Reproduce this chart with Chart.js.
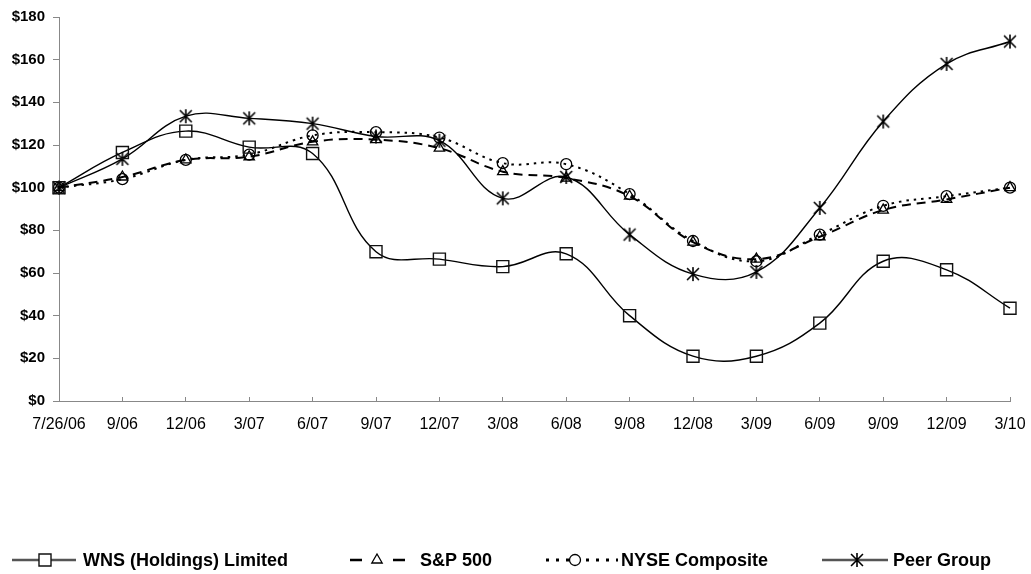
<!DOCTYPE html>
<html>
<head>
<meta charset="utf-8">
<script src="https://cdn.jsdelivr.net/npm/chart.js@4/dist/chart.umd.min.js"></script>
<style>
  html, body { margin: 0; padding: 0; background: #fff; }
  #wrap { width: 1031px; height: 574px; }
</style>
</head>
<body>
<div id="wrap"><canvas id="c" width="1031" height="574"></canvas></div>
<script>
// ---- data ----
const categories = ['7/26/06','9/06','12/06','3/07','6/07','9/07','12/07','3/08','6/08','9/08','12/08','3/09','6/09','9/09','12/09','3/10'];
const wnsValues  = [100,116.5,126.5,119,116,70,66.5,63,69,40,21,21,36.5,65.5,61.5,43.5];
const spValues   = [100,105,113,114.5,121.5,122.5,118.5,107.5,104.5,96,74.5,66.5,77,89.5,94.5,100];
const nyseValues = [100,104,113,115.5,124.5,126,123.5,111.5,111,97,75,65.5,78,91.5,96,100];
const peerValues = [100,113.5,133.5,132.5,130,124,122,95,105,78,59.5,60.5,90.5,131,158,168.5];
const seriesNames = ['WNS (Holdings) Limited','S&P 500','NYSE Composite','Peer Group'];
const yTicks = [0,20,40,60,80,100,120,140,160,180];

// ---- styles ----
const FONT = "'Liberation Sans', Arial, sans-serif";

function makeStar(size) {
  const cv = document.createElement('canvas');
  cv.width = size; cv.height = size;
  const g = cv.getContext('2d');
  const c = size / 2, r = size / 2 - 1;
  g.strokeStyle = '#000';
  g.lineWidth = 1.6;
  g.beginPath();
  g.moveTo(c, c - r); g.lineTo(c, c + r);
  const d = r * 0.85;
  g.moveTo(c - d, c - d); g.lineTo(c + d, c + d);
  g.moveTo(c + d, c - d); g.lineTo(c - d, c + d);
  g.stroke();
  return cv;
}
const starImg = makeStar(16);

const datasets = [
  { label: seriesNames[0], data: wnsValues, borderColor: '#000', borderWidth: 1.4,
    pointStyle: 'rect', pointRadius: 8.5, pointBorderWidth: 1.4, pointBorderColor: '#111',
    pointBackgroundColor: 'rgba(255,255,255,0)', borderDash: [],
    legendDash: [], legendLine: '#555', legendWidth: 2.5 },
  { label: seriesNames[1], data: spValues, borderColor: '#000', borderWidth: 2,
    pointStyle: 'triangle', pointRadius: 6, pointBorderWidth: 1.3, pointBorderColor: '#000',
    pointBackgroundColor: 'rgba(255,255,255,0)', borderDash: [9, 6],
    legendDash: [12, 31], legendLine: '#000', legendWidth: 2.5 },
  { label: seriesNames[2], data: nyseValues, borderColor: '#000', borderWidth: 2,
    pointStyle: 'circle', pointRadius: 5.5, pointBorderWidth: 1.3, pointBorderColor: '#000',
    pointBackgroundColor: 'rgba(255,255,255,0)', borderDash: [2.5, 5],
    legendDash: [3, 7], legendLine: '#000', legendWidth: 3 },
  { label: seriesNames[3], data: peerValues, borderColor: '#000', borderWidth: 1.4,
    pointStyle: starImg, pointRadius: 8, pointBorderWidth: 1.3, pointBorderColor: '#000',
    pointBackgroundColor: 'rgba(255,255,255,0)', borderDash: [],
    legendDash: [], legendLine: '#555', legendWidth: 2.5 }
];
datasets.forEach(d => { d.tension = 0.4; d.fill = false; d.pointHoverRadius = d.pointRadius; });

// legend layout (positions only)
const legendY = 560;
const legendItems = [
  { x1: 12,  x2: 76,  mx: 45,  tx: 83 },
  { x1: 350, x2: 405, mx: 377, tx: 420 },
  { x1: 546, x2: 618, mx: 575, tx: 621 },
  { x1: 822, x2: 888, mx: 857, tx: 893 }
];

function drawMarker(ctx, ds, x, y) {
  const r = ds.pointRadius;
  ctx.save();
  ctx.lineWidth = ds.pointBorderWidth;
  ctx.strokeStyle = ds.pointBorderColor;
  ctx.fillStyle = '#fff';
  if (typeof ds.pointStyle !== 'string') {
    ctx.drawImage(ds.pointStyle, x - ds.pointStyle.width / 2, y - ds.pointStyle.height / 2);
  } else if (ds.pointStyle === 'rect') {
    const s = r * Math.SQRT1_2;
    ctx.beginPath(); ctx.rect(x - s, y - s, 2 * s, 2 * s); ctx.fill(); ctx.stroke();
  } else if (ds.pointStyle === 'triangle') {
    ctx.beginPath();
    ctx.moveTo(x, y - r);
    ctx.lineTo(x + Math.sin(Math.PI * 2 / 3) * r, y - Math.cos(Math.PI * 2 / 3) * r);
    ctx.lineTo(x + Math.sin(Math.PI * 4 / 3) * r, y - Math.cos(Math.PI * 4 / 3) * r);
    ctx.closePath(); ctx.fill(); ctx.stroke();
  } else {
    ctx.beginPath(); ctx.arc(x, y, r, 0, Math.PI * 2); ctx.fill(); ctx.stroke();
  }
  ctx.restore();
}

const legendPlugin = {
  id: 'customLegend',
  afterDraw(chart) {
    const ctx = chart.ctx;
    chart.data.datasets.forEach((ds, i) => {
      const it = legendItems[i];
      ctx.save();
      ctx.strokeStyle = ds.legendLine;
      ctx.lineWidth = ds.legendWidth;
      ctx.setLineDash(ds.legendDash || []);
      ctx.beginPath();
      ctx.moveTo(it.x1, legendY); ctx.lineTo(it.x2, legendY);
      ctx.stroke();
      ctx.restore();
      drawMarker(ctx, ds, it.mx, legendY);
      ctx.save();
      ctx.fillStyle = '#000';
      ctx.font = 'bold 18px ' + FONT;
      ctx.textBaseline = 'middle';
      ctx.fillText(ds.label, it.tx, legendY + 1);
      ctx.restore();
    });
  }
};

new Chart(document.getElementById('c'), {
  type: 'line',
  data: { labels: categories, datasets: datasets },
  options: {
    responsive: false,
    animation: false,
    events: [],
    layout: { padding: { left: 0, right: 21, top: 17, bottom: 0 } },
    plugins: { legend: { display: false }, tooltip: { enabled: false } },
    elements: { line: { capBezierPoints: true } },
    scales: {
      x: {
        type: 'category',
        offset: false,
        grid: { display: true, drawOnChartArea: false, drawTicks: true, tickLength: -4, color: '#888', lineWidth: 1 },
        border: { display: true, color: '#888', width: 1 },
        ticks: { autoSkip: false, maxRotation: 0, minRotation: 0, padding: 18, color: '#000',
                 font: { family: FONT, size: 16, weight: 'normal' } },
        afterFit(scale) { scale.height = 173; scale.paddingLeft = 0; scale.paddingRight = 0; }
      },
      y: {
        min: 0, max: 180,
        afterBuildTicks(scale) { scale.ticks = yTicks.map(v => ({ value: v })); },
        grid: { display: true, drawOnChartArea: false, drawTicks: true, tickLength: 6, color: '#888', lineWidth: 1 },
        border: { display: true, color: '#888', width: 1 },
        ticks: { padding: 8, color: '#000', callback: v => '$' + v,
                 font: { family: FONT, size: 15, weight: 'bold' } },
        afterFit(scale) { scale.width = 59; scale.paddingTop = 0; scale.paddingBottom = 0; }
      }
    }
  },
  plugins: [legendPlugin]
});
</script>
</body>
</html>
